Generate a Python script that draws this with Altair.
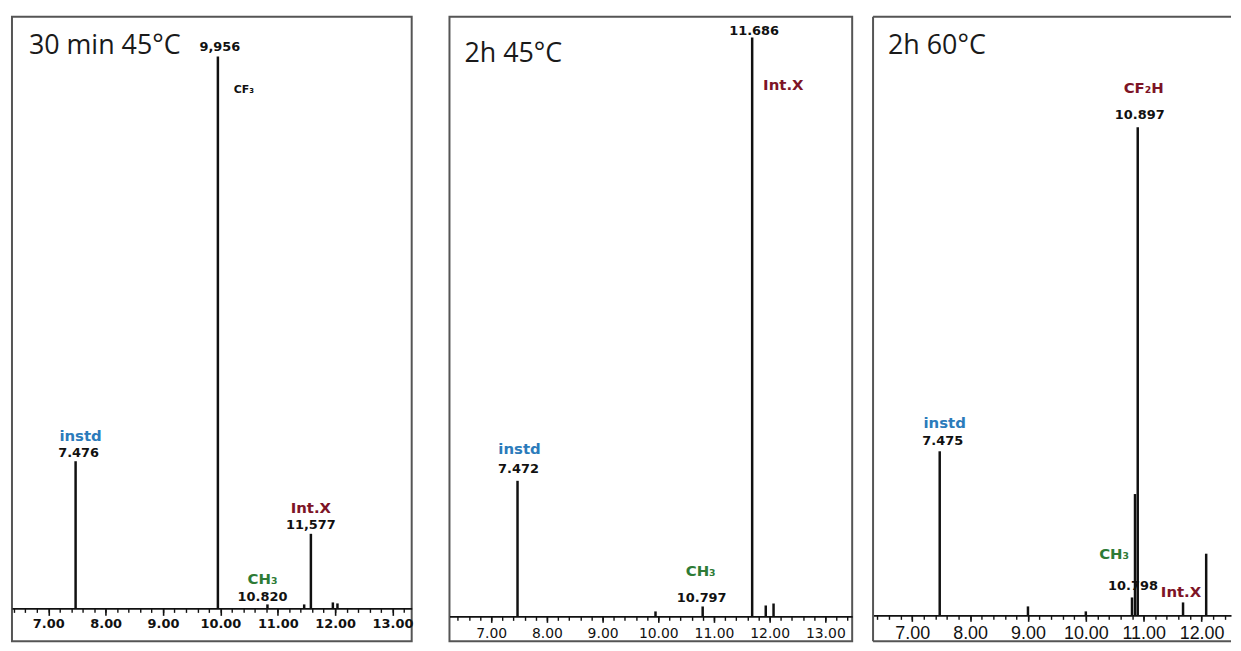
import altair as alt
import pandas as pd
import numpy as np

# ---------------- data ----------------
# retention time (min) and peak abundance (arbitrary units)
p1_rt = [7.476, 9.956, 10.820, 11.46, 11.577, 11.96, 12.04]
p1_ab = [148, 555, 4, 4, 75, 6, 5]

p2_rt = [7.472, 9.95, 10.797, 11.686, 11.93, 12.07]
p2_ab = [137, 5, 10, 585, 11, 13]

p3_rt = [7.475, 9.00, 10.00, 10.798, 10.85, 10.897, 11.68, 12.08]
p3_ab = [165, 9, 4, 18, 122, 491, 13, 62]

panel_titles = ["30 min 45°C", "2h 45°C", "2h 60°C"]
major_ticks = [7, 8, 9, 10, 11, 12, 13]

# annotation texts: (peak retention time, text, style)
p1_labels = [(7.476, "instd", "blue"), (7.476, "7.476", "num"),
             (9.956, "9,956", "num"), (9.956, "CF₃", "small"),
             (11.577, "Int.X", "red"), (11.577, "11,577", "num"),
             (10.820, "CH₃", "green"), (10.820, "10.820", "num")]
p2_labels = [(7.472, "instd", "blue"), (7.472, "7.472", "num"),
             (11.686, "11.686", "num"), (11.686, "Int.X", "red"),
             (10.797, "CH₃", "green"), (10.797, "10.797", "num")]
p3_labels = [(7.475, "instd", "blue"), (7.475, "7.475", "num"),
             (10.897, "CF₂H", "red"), (10.897, "10.897", "num"),
             (10.798, "CH₃", "green"), (10.798, "10.798", "num"),
             (11.68, "Int.X", "red")]

# ---------------- styling / layout ----------------
H = 628
FRAME = "#555555"
STYLES = {
    "blue": dict(color="#2b7bbb", font="DejaVu Sans", fontSize=15, fontWeight="bold"),
    "red": dict(color="#7d1426", font="DejaVu Sans", fontSize=15, fontWeight="bold"),
    "green": dict(color="#2e7b36", font="DejaVu Sans", fontSize=15, fontWeight="bold"),
    "num": dict(color="#111111", font="DejaVu Sans", fontSize=13, fontWeight="bold"),
    "small": dict(color="#111111", font="DejaVu Sans", fontSize=11, fontWeight="bold"),
}
# label offsets (dx, dy, align) in pixels, per panel, same order as label lists
p1_offsets = [(5, -25, "center"), (3, -8, "center"), (2, -10, "center"), (16, 34, "left"),
              (0, -26, "center"), (0, -9, "center"), (-5, -26, "center"), (-5, -7, "center")]
p2_offsets = [(2, -32, "center"), (1, -12, "center"), (2, -7, "center"), (11, 48, "left"),
              (-2, -36, "center"), (-1, -9, "center")]
p3_offsets = [(5, -28, "center"), (3, -10, "center"), (6, -39, "center"), (2, -12, "center"),
              (-18, -44, "center"), (1, -11, "center"), (-2, -10, "center")]


def make_panel(rt, ab, labels, offsets, title, width, xdom, ydom, title_pos,
               lab_font, lab_size, lab_weight, lab_pad, major_size, open_right=False):
    peaks = pd.DataFrame({"rt": rt, "ab": ab})
    minor = [round(v, 1) for v in np.arange(np.ceil(xdom[0] * 5) / 5, xdom[1], 0.2)]
    majors = [t for t in major_ticks if xdom[0] <= t <= xdom[1]]
    offset = ydom[0] * H / (ydom[1] - ydom[0])  # negative: axis drawn inside the frame at abundance 0
    xscale = alt.Scale(domain=xdom, nice=False, zero=False)
    yscale = alt.Scale(domain=ydom, nice=False, zero=False)

    major_axis = alt.Axis(
        values=majors, offset=offset, orient="bottom", title=None, grid=False,
        domainColor="#111111", domainWidth=1.6,
        tickColor="#111111", tickWidth=1.6, tickSize=major_size, format=".2f",
        labelFont=lab_font, labelFontSize=lab_size, labelFontWeight=lab_weight,
        labelColor="#111111", labelPadding=lab_pad, labelOverlap=False, labelFlush=False,
    )
    minor_axis = alt.Axis(
        values=minor, offset=offset, orient="bottom", title=None, grid=False,
        domain=False, labels=False, tickColor="#111111", tickWidth=1.4, tickSize=4,
    )

    rules = alt.Chart(peaks).mark_rule(color="#111111", strokeWidth=2.5).encode(
        x=alt.X("rt:Q", scale=xscale, axis=major_axis),
        y=alt.Y("ab:Q", scale=yscale, axis=None),
        y2=alt.datum(0),
    )
    minor_layer = alt.Chart(peaks).mark_point(opacity=0).encode(
        x=alt.X("rt:Q", scale=xscale, axis=minor_axis),
        y=alt.Y("ab:Q", scale=yscale, axis=None),
    )

    layers = [rules, minor_layer]
    lookup = dict(zip(rt, ab))
    for (prt, txt, sty), (dx, dy, align) in zip(labels, offsets):
        d = pd.DataFrame({"rt": [prt], "ab": [lookup[prt]], "label": [txt]})
        layers.append(
            alt.Chart(d).mark_text(dx=dx, dy=dy, align=align, baseline="middle", **STYLES[sty]).encode(
                x=alt.X("rt:Q", scale=xscale, axis=None),
                y=alt.Y("ab:Q", scale=yscale, axis=None),
                text="label:N",
            )
        )

    tdf = pd.DataFrame({"t": [title]})
    layers.append(
        alt.Chart(tdf).mark_text(align="left", baseline="middle", font="Open Sans",
                                 fontSize=27, color="#1a1a1a").encode(
            x=alt.value(title_pos[0]), y=alt.value(title_pos[1]), text="t:N")
    )

    if open_right:
        # frame whose right side runs off the cropped source image: draw left/top/bottom only
        one = pd.DataFrame({"k": [0]})
        base = alt.Chart(one).mark_rule(color=FRAME, strokeWidth=2)
        layers.append(base.encode(x=alt.value(0), x2=alt.value(width), y=alt.value(0)))
        layers.append(base.encode(x=alt.value(0), x2=alt.value(width), y=alt.value(H)))
        layers.append(base.encode(x=alt.value(0), y=alt.value(0), y2=alt.value(H)))
        return alt.layer(*layers).resolve_axis(x="independent").properties(
            width=width, height=H, view=alt.ViewBackground(stroke="transparent"))
    return alt.layer(*layers).resolve_axis(x="independent").properties(width=width, height=H)


p1 = make_panel(p1_rt, p1_ab, p1_labels, p1_offsets, panel_titles[0], 402,
                [6.367, 13.334], [-33, 595], (17, 29), "DejaVu Sans", 13, "bold", 2.5, 7)
p2 = make_panel(p2_rt, p2_ab, p2_labels, p2_offsets, panel_titles[1], 405,
                [6.25, 13.482], [-25.1, 606], (15, 37), "DejaVu Sans", 14, "normal", 4, 6)
p3 = make_panel(p3_rt, p3_ab, p3_labels, p3_offsets, panel_titles[2], 360,
                [6.323, 12.509], [-26, 602], (15, 29), "Liberation Sans", 18, "normal", 3, 6,
                open_right=True)

chart = alt.hconcat(alt.hconcat(p1, p2, spacing=34), p3, spacing=18).properties(
    padding={"left": 3, "top": 5, "right": 0, "bottom": 0},
    background="white",
).configure_view(stroke=FRAME, strokeWidth=2)

chart.save("out.html", embed_options={"renderer": "svg", "actions": False})
